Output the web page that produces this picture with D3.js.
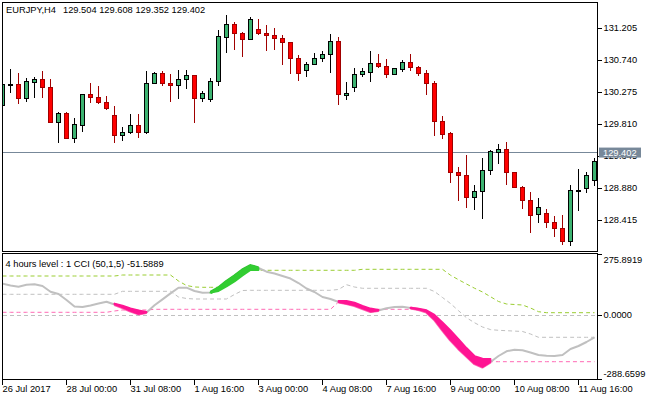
<!DOCTYPE html>
<html>
<head>
<meta charset="utf-8">
<script src="https://cdn.jsdelivr.net/npm/d3@7/dist/d3.min.js"></script>
<style>
  html, body { margin:0; padding:0; background:#ffffff; overflow:hidden; }
  svg { display:block; }
  text { font-family: "Liberation Sans", Arial, sans-serif; font-size: 9.3px; fill:#000; }
</style>
</head>
<body>
<svg id="chart" width="650" height="400"></svg>
<script>
// ---------------- DATA ----------------
const headerSymbol = "EURJPY,H4";
const headerOHLC = "129.504 129.608 129.352 129.402";
const subTitle = "4 hours level : 1 CCI (50,1,5) -51.5889";

const opens = [130.086,130.391,130.391,130.182,130.420,130.454,130.348,129.839,129.960,129.607,
129.795,130.246,130.202,130.130,129.941,129.650,129.694,129.795,129.694,130.406,
130.541,130.406,130.377,130.464,130.522,130.182,130.168,130.435,131.074,131.263,
131.132,131.045,131.190,131.132,131.103,131.060,131.002,130.763,130.589,130.682,
130.763,130.827,131.016,130.226,130.342,130.531,130.566,130.696,130.653,130.531,
130.603,130.711,130.638,130.551,130.406,129.854,129.679,129.113,129.069,128.749,
128.836,129.142,129.403,129.447,129.113,128.895,128.706,128.502,128.517,128.386,
128.303,128.110,128.851,128.870,128.990];
const highs = [130.410,130.614,130.560,130.483,130.502,130.589,130.464,129.984,129.993,129.906,
130.250,130.406,130.366,130.217,130.072,129.766,129.955,129.955,130.585,130.574,
130.585,130.541,130.599,130.599,130.522,130.298,130.483,131.180,131.398,131.292,
131.151,131.365,131.340,131.253,131.209,131.103,131.002,130.813,130.711,130.850,
130.880,131.127,131.079,130.425,130.624,130.624,130.875,130.832,130.759,130.635,
130.744,130.832,130.657,130.599,130.439,129.931,129.702,129.190,129.364,128.928,
129.320,129.437,129.524,129.553,129.113,128.918,128.826,128.739,128.575,128.482,
128.488,128.924,129.161,129.117,129.325];
const lows = [130.076,130.269,130.101,130.138,130.197,130.197,129.839,129.543,129.607,129.543,
129.702,130.115,130.105,130.018,129.543,129.572,129.665,129.615,129.673,130.396,
130.371,130.138,130.182,130.327,129.833,130.138,130.138,130.371,130.850,130.894,
130.792,131.045,131.103,130.880,130.894,130.676,130.545,130.444,130.502,130.682,
130.720,130.560,130.095,130.163,130.284,130.502,130.429,130.633,130.487,130.526,
130.574,130.589,130.516,130.240,129.644,129.601,128.953,128.700,128.594,128.569,
128.430,129.069,129.229,128.928,128.880,128.584,128.226,128.380,128.308,128.172,
128.061,128.042,128.555,128.816,128.918];
const closes = [130.391,130.394,130.182,130.425,130.454,130.342,129.839,129.960,129.607,129.810,
130.246,130.197,130.124,130.037,129.650,129.694,129.795,129.694,130.406,130.541,
130.406,130.377,130.468,130.522,130.182,130.261,130.439,131.079,131.263,131.132,
131.039,131.336,131.132,131.103,131.060,131.002,130.763,130.551,130.682,130.769,
130.827,131.016,130.240,130.261,130.537,130.570,130.696,130.647,130.531,130.624,
130.711,130.633,130.551,130.406,129.848,129.665,129.113,129.073,128.749,128.836,
129.142,129.408,129.447,129.113,128.889,128.706,128.482,128.604,128.386,128.293,
128.110,128.851,128.855,129.073,129.267];

const lastPrice = 129.402;
const priceTicks = [131.205, 130.740, 130.275, 129.810, 129.345, 128.880, 128.415];

// CCI indicator
const cci = [141.8,133.6,128.2,137.2,139.0,131.4,105.6,95.2,68.1,38.8,
36.5,43.3,52.3,60.0,47.8,34.3,18.5,5.8,11.7,44.2,
70.8,97.9,123.7,123.7,108.8,101.1,102.0,122.3,151.7,176.5,
203.6,223.1,212.7,196.0,187.8,176.5,165.2,144.9,120.1,104.3,
81.7,72.7,59.1,52.3,43.3,29.8,16.2,20.7,30.7,36.5,
37.4,32.0,25.2,13.9,-19.9,-67.4,-112.5,-150.9,-184.8,-218.7,
-234.5,-211.9,-184.8,-163.6,-156.3,-159.0,-169.0,-180.3,-183.9,-184.8,
-180.3,-153.2,-139.6,-121.6,-100.3];
const cciEdge = [null,null,null,null,null,null,null,null,null,null,
null,null,null,null,52.3,43.3,30.7,20.8,14.0,null,
null,null,null,null,null,null,101.1,108.8,129.1,151.7,
178.8,203.6,203.6,null,null,null,null,null,null,null,
null,null,63.6,63.6,56.8,41.6,29.8,23.0,null,null,
null,33.4,28.8,22.0,1.1,-32.6,-69.6,-108.0,-148.6,-184.8,
-196.9,-198.2,null,null,null,null,null,null,null,null,
null,null,null,null,null];
const cciState = [0,0,0,0,0,0,0,0,0,0,
0,0,0,0,-1,-1,-1,-1,-1,0,
0,0,0,0,0,0,1,1,1,1,
1,1,1,0,0,0,0,0,0,0,
0,0,-1,-1,-1,-1,-1,-1,0,0,
0,-1,-1,-1,-1,-1,-1,-1,-1,-1,
-1,-1,0,0,0,0,0,0,0,0,
0,0,0,0,0];
const upperLevel = [176.5,176.5,176.5,176.5,176.5,176.5,176.5,176.5,176.5,176.5,
176.5,176.5,176.5,176.5,176.5,181.0,181.0,181.0,181.0,181.0,
181.0,181.0,154.0,133.6,126.9,125.5,125.5,125.5,144.9,165.2,
190.1,203.6,202.3,202.3,202.3,202.3,202.3,202.3,202.3,202.3,
202.3,202.3,202.3,202.3,202.3,206.8,206.8,206.8,206.8,206.8,
206.8,206.8,206.8,206.8,206.8,206.8,180.1,159.8,140.4,121.4,
104.3,83.0,61.4,50.1,47.8,45.6,32.0,15.3,10.8,10.8,
10.8,10.8,10.8,10.8,10.8];
const middleLevel = [93.9,93.9,93.9,93.9,93.9,93.9,93.9,93.9,93.9,93.9,
93.9,93.9,93.9,93.9,93.9,107.4,107.4,107.4,107.4,107.4,
107.4,107.4,81.7,74.9,72.7,72.7,72.7,72.7,72.7,93.0,
111.0,111.9,111.9,111.9,111.9,111.9,111.9,111.9,111.9,111.9,
111.9,111.9,115.6,137.2,126.9,121.0,121.0,121.0,121.0,121.0,
121.0,121.0,121.0,121.0,106.5,79.4,52.3,19.8,-11.8,-34.4,
-53.8,-65.5,-68.7,-70.5,-72.3,-74.1,-85.4,-100.3,-100.3,-100.3,
-100.3,-100.3,-100.3,-100.3,-100.3];
const lowerLevel = [12.6,12.6,12.6,12.6,12.6,12.6,12.6,12.6,12.6,12.6,
12.6,12.6,12.6,12.6,18.5,23.0,23.0,23.0,23.0,26.1,
26.1,26.1,26.1,26.1,26.1,26.1,26.1,26.1,26.1,26.1,
26.1,26.1,26.1,26.1,26.1,26.1,26.1,26.1,26.1,26.1,
26.1,26.1,59.1,52.3,43.3,32.0,27.5,26.1,26.1,26.1,
26.1,26.1,26.1,18.5,-8.6,-49.3,-89.9,-130.6,-166.7,-198.3,
-210.5,-210.5,-210.5,-210.5,-210.5,-210.5,-210.5,-210.5,-210.5,-210.5,
-210.5,-210.5,-210.5,-210.5,-210.5];
const zeroLevel = 0;
const cciTicks = [275.8919, 0, -288.6599];
const cciTickLabels = ["275.8919", "0.0000", "-288.6599"];

const timeTickIdx = [0, 8, 16, 24, 32, 40, 48, 56, 64, 72];
const timeLabels = ["26 Jul 2017", "28 Jul 00:00", "31 Jul 08:00", "1 Aug 16:00", "3 Aug 00:00",
  "4 Aug 08:00", "7 Aug 16:00", "9 Aug 00:00", "10 Aug 08:00", "11 Aug 16:00"];

// ---------------- DRAW ----------------
const svg = d3.select("#chart");
const N = closes.length;
const idx = d3.range(N);

const x = d3.scaleLinear().domain([0, N - 1]).range([2.5, 594.5]);
const yP = d3.scaleLinear().domain([127.969, 131.587]).range([251, 2]);
const yC = d3.scaleLinear().domain([cciTicks[2], cciTicks[0]]).range([379, 254]);

const defs = svg.append("defs");
defs.append("clipPath").attr("id", "clipMain").append("rect")
  .attr("x", 3).attr("y", 3).attr("width", 594).attr("height", 248);
defs.append("clipPath").attr("id", "clipSub").append("rect")
  .attr("x", 3).attr("y", 254).attr("width", 594).attr("height", 125);
defs.append("clipPath").attr("id", "clipAxisLbl").append("rect")
  .attr("x", 598).attr("y", 0).attr("width", 52).attr("height", 252);

// --- main panel ---
const gMain = svg.append("g").attr("clip-path", "url(#clipMain)");

// last price line
gMain.append("line")
  .attr("x1", 3).attr("x2", 597)
  .attr("y1", Math.round(yP(lastPrice)) + 0.5).attr("y2", Math.round(yP(lastPrice)) + 0.5)
  .attr("stroke", "#778899").attr("stroke-width", 1);

const candle = gMain.selectAll("g.candle").data(idx).join("g").attr("class", "candle");
const isBull = i => closes[i] >= opens[i];
candle.append("line")
  .attr("x1", i => x(i)).attr("x2", i => x(i))
  .attr("y1", i => yP(highs[i])).attr("y2", i => yP(lows[i]))
  .attr("stroke", i => isBull(i) ? "#000000" : "#a00000")
  .attr("stroke-width", 1)
  .attr("shape-rendering", "crispEdges");
candle.append("rect")
  .attr("x", i => x(i) - 2).attr("width", 4)
  .attr("y", i => yP(Math.max(opens[i], closes[i])))
  .attr("height", i => Math.max(1, Math.abs(yP(opens[i]) - yP(closes[i]))))
  .attr("fill", i => isBull(i) ? "#3cb371" : "#ff0000")
  .attr("stroke", i => isBull(i) ? "#000000" : "#a00000")
  .attr("stroke-width", 1)
  .attr("shape-rendering", "crispEdges");

// frames
svg.append("rect").attr("x", 2.5).attr("y", 2.5).attr("width", 595).attr("height", 249)
  .attr("fill", "none").attr("stroke", "#000").attr("shape-rendering", "crispEdges");
svg.append("rect").attr("x", 2.5).attr("y", 253.5).attr("width", 595).attr("height", 126)
  .attr("fill", "none").attr("stroke", "#000").attr("shape-rendering", "crispEdges");

// price axis
const axP = svg.append("g").attr("transform", "translate(597.5,0)")
  .call(d3.axisRight(yP).tickValues(priceTicks).tickSize(4).tickPadding(2)
    .tickFormat(d => d.toFixed(3)).offset(0));
axP.select(".domain").remove();
axP.selectAll("line").attr("shape-rendering", "crispEdges");

// last price label (covers the tick label beneath it, as in the terminal)
const lpY = yP(lastPrice);
svg.append("rect").attr("x", 599).attr("y", lpY - 4.8).attr("width", 42).attr("height", 10)
  .attr("fill", "#778899");
svg.append("text").attr("x", 603).attr("y", lpY).attr("dy", "0.35em")
  .style("fill", "#ffffff").text(lastPrice.toFixed(3));

// header
svg.append("text").attr("x", 6).attr("y", 12.7).text(headerSymbol);
svg.append("text").attr("x", 63).attr("y", 12.7).text(headerOHLC);

// --- sub panel ---
const gSub = svg.append("g").attr("clip-path", "url(#clipSub)");
const lineOf = arr => d3.line().x(i => x(i)).y(i => yC(arr[i]))(idx);

gSub.append("line").attr("x1", 3).attr("x2", 597)
  .attr("y1", Math.round(yC(zeroLevel)) + 0.5).attr("y2", Math.round(yC(zeroLevel)) + 0.5)
  .attr("stroke", "#c0c0c0").attr("stroke-dasharray", "4,3");
gSub.append("path").attr("d", lineOf(upperLevel)).attr("fill", "none")
  .attr("stroke", "#9acd32").attr("stroke-width", 1).attr("stroke-dasharray", "4,3");
gSub.append("path").attr("d", lineOf(middleLevel)).attr("fill", "none")
  .attr("stroke", "#c0c0c0").attr("stroke-width", 1).attr("stroke-dasharray", "4,3");
gSub.append("path").attr("d", lineOf(lowerLevel)).attr("fill", "none")
  .attr("stroke", "#ff69b4").attr("stroke-width", 1).attr("stroke-dasharray", "4,3");

gSub.append("path").attr("d", lineOf(cci)).attr("fill", "none")
  .attr("stroke", "#c0c0c0").attr("stroke-width", 2).attr("stroke-linejoin", "round");

// ribbons
const segs = [];
idx.forEach(i => {
  if (cciState[i] === 0) return;
  const last = segs[segs.length - 1];
  if (last && last.state === cciState[i] && last.idx[last.idx.length - 1] === i - 1) last.idx.push(i);
  else segs.push({ state: cciState[i], idx: [i] });
});
const ribbonCol = { "1": { fill: "#32cd32", edge: "#2fc22f" }, "-1": { fill: "#ff1493", edge: "#ff69b4" } };
segs.forEach(s => {
  const c = ribbonCol[String(s.state)];
  gSub.append("path").datum(s.idx)
    .attr("d", d3.line().x(i => x(i)).y(i => yC(cci[i])))
    .attr("fill", "none").attr("stroke", c.edge).attr("stroke-width", 3.2).attr("stroke-linejoin", "round");
  gSub.append("path").datum(s.idx)
    .attr("d", d3.area().x(i => x(i)).y0(i => yC(cci[i])).y1(i => yC(cciEdge[i])))
    .attr("fill", c.fill).attr("stroke", c.fill).attr("stroke-width", 1.8).attr("stroke-linejoin", "round");
});

svg.append("text").attr("x", 5.5).attr("y", 267).text(subTitle);

// cci axis
const axC = svg.append("g").attr("transform", "translate(597.5,0)")
  .call(d3.axisRight(yC).tickValues(cciTicks).tickSize(4).tickPadding(2)
    .tickFormat((d, k) => cciTickLabels[k]).offset(0));
axC.select(".domain").remove();
axC.selectAll("line").attr("shape-rendering", "crispEdges");
axC.selectAll("text").attr("dy", (d, k) => k === 0 ? "0.95em" : (k === cciTicks.length - 1 ? "-0.25em" : "0.32em"));

// time axis
const axT = svg.append("g").attr("transform", "translate(0,379.5)")
  .call(d3.axisBottom(x).tickValues(timeTickIdx).tickSize(5)
    .tickFormat((d, k) => timeLabels[k]).offset(0));
axT.select(".domain").remove();
axT.selectAll("line").attr("shape-rendering", "crispEdges");
axT.selectAll("text").attr("text-anchor", "start").attr("x", 0).attr("y", 12).attr("dy", 0);
</script>
</body>
</html>
